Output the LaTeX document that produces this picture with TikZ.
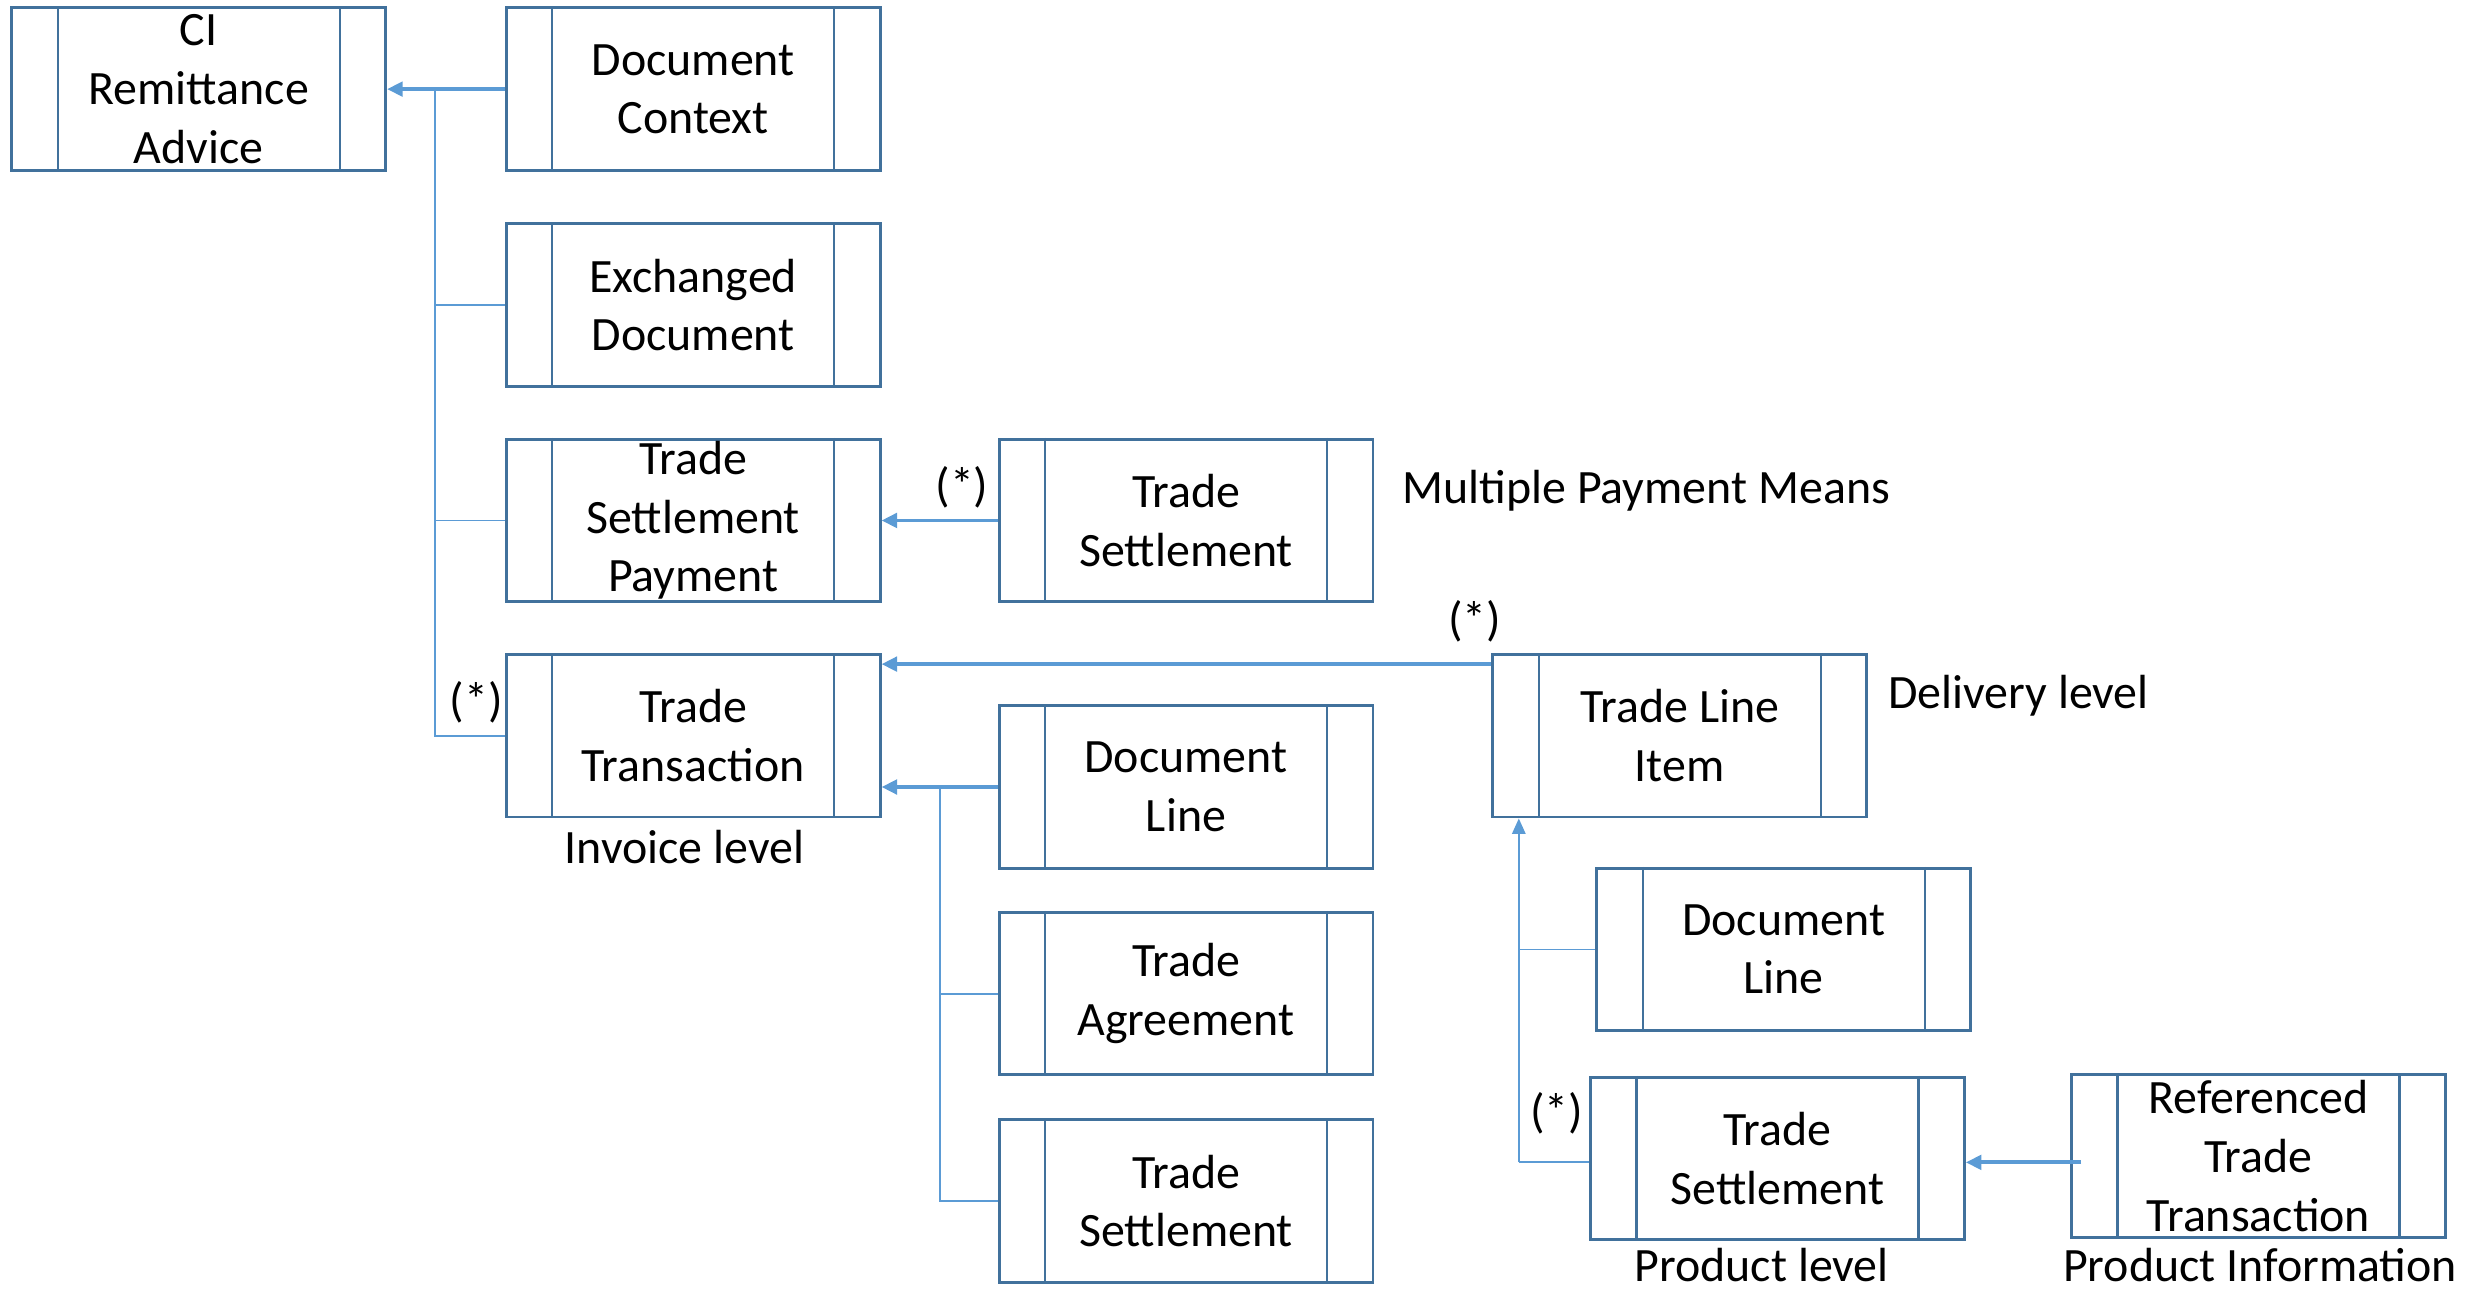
\documentclass[tikz,border=0pt]{standalone}
\usepackage{fontspec}
\setmainfont{Carlito}
\usetikzlibrary{arrows.meta}
\definecolor{boxc}{HTML}{41719C}
\definecolor{linec}{HTML}{5B9BD5}
\begin{document}
\begin{tikzpicture}[x=0.025cm,y=-0.025cm,
  font=\fontsize{21.6}{26.4}\selectfont,
  sub/.style={draw=boxc, line width=1.3pt, minimum width=5.925cm, minimum height=2.575cm, inner sep=0pt, align=center, fill=white},
  inner/.style={draw=boxc, line width=1pt},
  arr/.style={draw=linec, line width=1.7pt, -{Triangle[length=7pt,width=6.5pt]}},
  arrthin/.style={draw=linec, line width=1pt, -{Triangle[length=7pt,width=6pt]}},
  conn/.style={draw=linec, line width=0.8pt},
  lbl/.style={inner sep=0pt}]
\useasboundingbox (0,0) rectangle (1568,818.5);
\node[sub] (ci) at (126,56.5) {CI\\Remittance\\Advice};
\node[sub] (dc) at (439.5,56.5) {Document\\Context};
\node[sub] (ed) at (439.5,193.5) {Exchanged\\Document};
\node[sub] (tsp) at (439.5,330) {Trade\\Settlement\\Payment};
\node[sub] (tt) at (439.5,466.5) {Trade\\Transaction};
\node[sub] (ts1) at (752,330) {Trade\\Settlement};
\node[sub] (tli) at (1065,466.5) {Trade Line\\Item};
\node[sub] (dl1) at (752,499) {Document\\Line};
\node[sub] (ta) at (752,630) {Trade\\Agreement};
\node[sub] (ts2) at (752,761.5) {Trade\\Settlement};
\node[sub] (dl2) at (1131,602) {Document\\Line};
\node[sub] (tsprod) at (1127,734.5) {Trade\\Settlement};
\node[sub] (rtt) at (1432,733) {Referenced\\Trade\\Transaction};
\foreach \n in {ci,dc,ed,tsp,tt,ts1,tli,dl1,ta,ts2,dl2,tsprod,rtt}{
  \draw[inner] ([xshift=0.75cm]\n.north west) -- ([xshift=0.75cm]\n.south west);
  \draw[inner] ([xshift=-0.75cm]\n.north east) -- ([xshift=-0.75cm]\n.south east);
}
% top-left group
\draw[arr] (dc.west) -- (ci.east);
\coordinate (j0) at (276,56.5);
\draw[conn] (j0) |- (tt.west);
\draw[conn] (j0 |- ed.west) -- (ed.west);
\draw[conn] (j0 |- tsp.west) -- (tsp.west);
% trade settlement -> payment
\draw[arr] (ts1.west) -- (tsp.east);
% trade line item -> trade transaction
\draw[arr] ([yshift=-0.175cm]tli.north west) -- ([yshift=-0.175cm]tt.north east);
% document line group
\draw[arr] (dl1.west) -- (dl1.west -| tt.east);
\coordinate (j1) at (596,499);
\draw[conn] (j1) |- (ts2.west);
\draw[conn] (j1 |- ta.west) -- (ta.west);
% right group
\coordinate (j2) at (963,737);
\draw[conn] (tsprod.west |- j2) -- (j2);
\draw[arrthin] (j2) -- (j2 |- tli.south);
\draw[conn] (j2 |- dl2.west) -- (dl2.west);
\draw[arr] ([xshift=0.175cm]rtt.west |- j2) -- (tsprod.east |- j2);
% labels
\node[lbl] (s1) at (610,309) {(*)};
\node[lbl, anchor=west] (mpm) at (889,311) {Multiple Payment Means};
\node[lbl] (s2) at (935,394) {(*)};
\node[lbl, anchor=west] (dlv) at (1197,441) {Delivery level};
\node[lbl] (s3) at (302,445) {(*)};
\node[lbl] (inv) at (434,537) {Invoice level};
\node[lbl] (s4) at (987,706) {(*)};
\node[lbl] (pl) at (1117,802) {Product level};
\node[lbl] (pi) at (1433,802) {Product Information};
\end{tikzpicture}
\end{document}
